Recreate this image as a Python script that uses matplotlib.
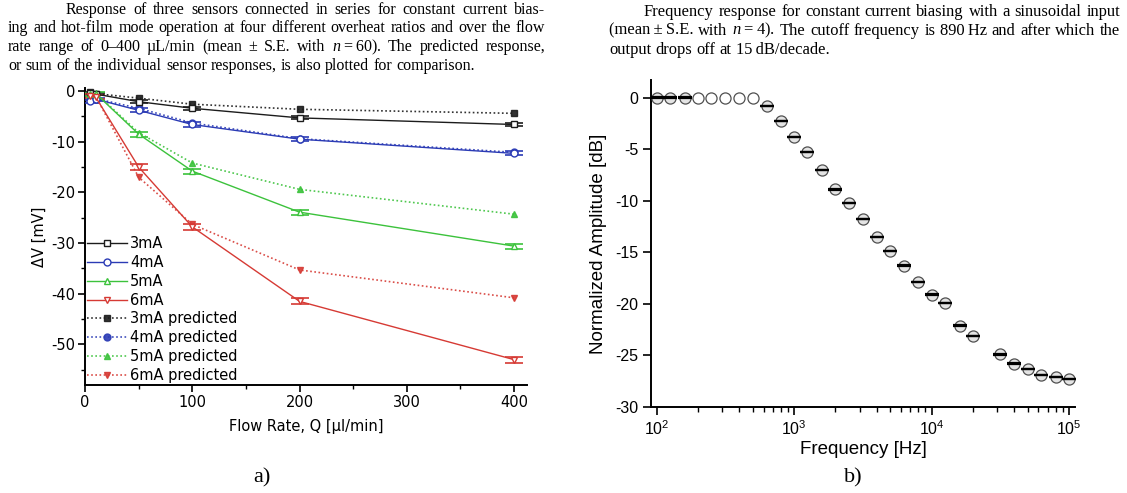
import matplotlib
matplotlib.use("Agg")
import matplotlib.pyplot as plt
from matplotlib.ticker import LogLocator, NullFormatter, FixedLocator

# ---------------- data (left panel) ----------------
flow = [5, 10, 50, 100, 200, 400]
meas_3mA = [-0.3, -0.6, -2.1, -3.4, -5.3, -6.6]
meas_4mA = [-2.0, -1.6, -3.8, -6.6, -9.5, -12.3]
meas_5mA = [-0.6, -0.5, -8.5, -15.8, -23.9, -30.6]
meas_6mA = [-1.0, -1.2, -15.0, -26.8, -41.5, -53.0]
pred_3mA = [-0.2, -0.5, -1.4, -2.6, -3.6, -4.4]
pred_4mA = [-1.8, -1.5, -3.4, -6.3, -9.4, -12.1]
pred_5mA = [-0.4, -0.4, -8.2, -14.2, -19.4, -24.3]
pred_6mA = [-0.9, -1.0, -17.0, -26.3, -35.3, -40.8]
se_3mA = [0.2, 0.2, 0.3, 0.3, 0.3, 0.3]
se_4mA = [0.3, 0.3, 0.4, 0.4, 0.4, 0.4]
se_5mA = [0.3, 0.3, 0.5, 0.5, 0.5, 0.5]
se_6mA = [0.4, 0.4, 0.6, 0.6, 0.6, 0.6]
series_labels = ["3mA", "4mA", "5mA", "6mA"]

# ---------------- data (right panel) ----------------
freq = [100, 125, 160, 200, 250, 315, 400, 500, 630, 800, 1000, 1250, 1600,
        2000, 2500, 3150, 4000, 5000, 6300, 8000, 10000, 12500, 16000, 20000,
        31500, 40000, 50000, 63000, 80000, 100000]
amp_db = [0, 0, 0, 0, 0, 0, 0, 0, -0.8, -2.3, -3.8, -5.3, -7.0, -8.9, -10.2,
          -11.8, -13.5, -14.9, -16.3, -17.9, -19.1, -19.9, -22.1, -23.1,
          -24.9, -25.8, -26.3, -26.9, -27.1, -27.3]
has_err = [1, 1, 1, 0, 0, 0, 0, 0] + [1] * 22

caption_a = ["Response of three sensors connected in series for constant current bias-",
             "ing and hot-film mode operation at four different overheat ratios and over the flow",
             "rate range of 0\u2013400 \u00b5L/min (mean \u00b1 S.E. with $n$\u2009=\u200960). The predicted response,",
             "or sum of the individual sensor responses, is also plotted for comparison."]
caption_b = ["Frequency response for constant current biasing with a sinusoidal input",
             "(mean\u2009\u00b1\u2009S.E. with $n$\u2009=\u20094). The cutoff frequency is 890\u2009Hz and after which the",
             "output drops off at 15\u2009dB/decade."]

W, H = 1127, 493
plt.rcParams["font.family"] = ["Liberation Sans", "DejaVu Sans"]
plt.rcParams["axes.unicode_minus"] = False
plt.rcParams["mathtext.fontset"] = "custom"
plt.rcParams["mathtext.rm"] = "Liberation Sans"
plt.rcParams["mathtext.it"] = "Liberation Serif:italic"

fig = plt.figure(figsize=(W / 100, H / 100), dpi=100)


def px_axes(x0, y0, x1, y1):
    return fig.add_axes([x0 / W, 1 - y1 / H, (x1 - x0) / W, (y1 - y0) / H])


# ---------------- left panel ----------------
LF = ["DejaVu Sans"]
axl = px_axes(85, 88, 527, 385)
colors = ["#1c1c1c", "#2b3bb5", "#3cc23c", "#d63a34"]
meas = [meas_3mA, meas_4mA, meas_5mA, meas_6mA]
pred = [pred_3mA, pred_4mA, pred_5mA, pred_6mA]
ses = [se_3mA, se_4mA, se_5mA, se_6mA]
markers = ["s", "o", "^", "v"]
handles = []
for c, m, s, mk, lab in zip(colors, meas, ses, markers, series_labels):
    axl.errorbar(flow, m, yerr=s, color=c, lw=1.0, capsize=6.5, capthick=1.2,
                 elinewidth=1.0, fmt="none", zorder=3)
    h, = axl.plot(flow, m, color=c, lw=1.0, marker=mk, ms=5, mfc="white",
                  mec=c, mew=1.0, label=lab, zorder=4)
    handles.append(h)
for c, p, mk, lab in zip(colors, pred, markers, series_labels):
    h, = axl.plot(flow, p, color=c, lw=1.2, ls=(0, (1, 1.5)), marker=mk, ms=5,
                  mfc=c, mec=c, label=lab + " predicted", alpha=0.9, zorder=3)
    handles.append(h)

axl.set_xlim(0, 412)
axl.set_ylim(-58.0, 0.6)
axl.xaxis.set_major_locator(FixedLocator([0, 100, 200, 300, 400]))
axl.xaxis.set_minor_locator(FixedLocator([50, 150, 250, 350]))
axl.yaxis.set_major_locator(FixedLocator([0, -10, -20, -30, -40, -50]))
axl.yaxis.set_minor_locator(FixedLocator([-5, -15, -25, -35, -45, -55]))
for sp in ["top", "right"]:
    axl.spines[sp].set_visible(False)
for sp in ["left", "bottom"]:
    axl.spines[sp].set_linewidth(1.4)
axl.tick_params(which="major", direction="out", length=5, width=1.2,
                labelsize=10.5, pad=2)
axl.tick_params(which="minor", direction="out", length=3, width=1.0)
for t in axl.get_xticklabels() + axl.get_yticklabels():
    t.set_family(LF)
axl.set_xlabel("Flow Rate, Q [\u00b5l/min]", fontsize=10.5, labelpad=7, family=LF)
axl.set_ylabel("\u0394V [mV]", fontsize=10.5, labelpad=3, family=LF)
axl.legend(handles=handles, loc="lower left", bbox_to_anchor=(0.0, 0.0),
           frameon=False, prop={"family": LF, "size": 10.5}, handlelength=2.7,
           handletextpad=0.25, labelspacing=0.26, borderaxespad=0.0,
           borderpad=0.15)

# ---------------- right panel ----------------
axr = px_axes(651, 80, 1075, 407)
for f, a, e in zip(freq, amp_db, has_err):
    axr.plot([f], [a], marker="o", ms=8, mfc="#e4e4e4" if e else "white",
             mec="#505050", mew=0.9, ls="none", zorder=3)
    if e:
        axr.errorbar([f], [a], yerr=0.02, fmt="none", ecolor="black",
                     capsize=5, capthick=1.6, elinewidth=0.5, zorder=4)
axr.set_xscale("log")
axr.set_xlim(90.9, 110600)
axr.set_ylim(-30, 1.7)
axr.xaxis.set_major_locator(LogLocator(base=10, numticks=10))
axr.xaxis.set_minor_locator(LogLocator(base=10, subs=range(2, 10), numticks=20))
axr.xaxis.set_minor_formatter(NullFormatter())
axr.yaxis.set_major_locator(FixedLocator([0, -5, -10, -15, -20, -25, -30]))
for sp in ["top", "right"]:
    axr.spines[sp].set_visible(False)
for sp in ["left", "bottom"]:
    axr.spines[sp].set_linewidth(1.4)
axr.tick_params(which="major", direction="out", length=6, width=1.2,
                labelsize=11.5, pad=3)
axr.tick_params(which="minor", direction="out", length=3.5, width=1.0)
axr.set_xlabel("Frequency [Hz]", fontsize=13.5, labelpad=2)
axr.set_ylabel("Normalized Amplitude [dB]", fontsize=13.5, labelpad=6)

# ---------------- captions (justified) ----------------
fig.canvas.draw()
renderer = fig.canvas.get_renderer()
SERIF = ["Liberation Serif", "DejaVu Serif"]


def natural_width(line, fs):
    t = fig.text(0, 0, line, fontsize=fs, family=SERIF)
    w = t.get_window_extent(renderer).width
    t.remove()
    return w


def justified(lines, x0, x1, y0, lh, indent, fit_line, fit_width):
    fs = 10.0 * fit_width / natural_width(lines[fit_line], 10.0)
    for i, line in enumerate(lines):
        y = y0 + i * lh
        start = x0 + (indent if i == 0 else 0)
        words = line.split(" ")
        ts = [fig.text(start / W, 1 - y / H, w, fontsize=fs, family=SERIF,
                       va="baseline", ha="left") for w in words]
        widths = [t.get_window_extent(renderer).width for t in ts]
        last = i == len(lines) - 1
        if last or len(ts) == 1:
            gap = fs * 0.25 * 100 / 72
        else:
            gap = (x1 - start - sum(widths)) / (len(ts) - 1)
        x = start
        for t, w in zip(ts, widths):
            t.set_x(x / W)
            x += w + gap


justified(caption_a, 8, 545, 13.5, 18.8, 58, 1, 0.985 * (545 - 8))
justified(caption_b, 609, 1120, 15.5, 19.3, 35, 0, 0.99 * (1120 - 644))

fig.text(262 / W, 1 - 478 / H, "a)", fontsize=16, family=SERIF,
         ha="center", va="center")
fig.text(853 / W, 1 - 478 / H, "b)", fontsize=16, family=SERIF,
         ha="center", va="center")

fig.savefig("out.png", dpi=100)
